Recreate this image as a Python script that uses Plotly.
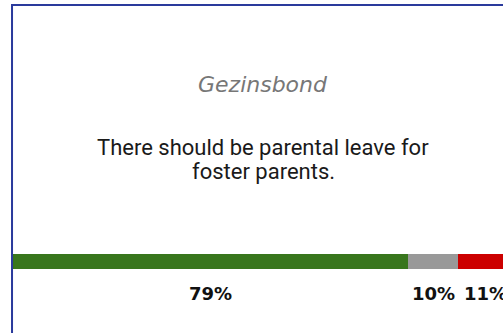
import plotly.graph_objects as go

# Data
organisation = "Gezinsbond"
statement_lines = ["There should be parental leave for", "foster parents."]
categories = ["Agree", "Neutral", "Disagree"]
values = [79, 10, 11]
colors = ["#38761d", "#999999", "#cc0000"]
labels = [f"{v}%" for v in values]

W, H = 503, 333
BAR_Y = 261.5  # y in pixel-like data units (reversed axis)

fig = go.Figure()
for cat, val, col in zip(categories, values, colors):
    fig.add_trace(go.Bar(
        x=[val], y=[BAR_Y], orientation="h", name=cat,
        marker=dict(color=col, line=dict(width=0)),
        width=15, hoverinfo="skip", showlegend=False,
    ))

# Percentage labels centred under each segment
cum = 0
for val, lab in zip(values, labels):
    fig.add_annotation(
        x=cum + val / 2, y=293, xref="x", yref="y", text=f"<b>{lab}</b>", showarrow=False,
        font=dict(family="DejaVu Sans", size=18, color="#111111"),
        xanchor="center", yanchor="middle",
    )
    cum += val

total = sum(values)
fig.add_annotation(
    x=total / 2, y=84, xref="x", yref="y", text=f"<i>{organisation}</i>",
    showarrow=False, font=dict(family="DejaVu Sans", size=22, color="#777777"),
    xanchor="center", yanchor="middle",
)
for i, line in enumerate(statement_lines):
    fig.add_annotation(
        x=total / 2, y=147 + 24 * i, xref="x", yref="y", text=line,
        showarrow=False, font=dict(family="Roboto", size=22, color="#1a1a1a"),
        xanchor="center", yanchor="middle", align="center",
    )

# Frame (extends past the window on right and bottom)
fig.add_shape(type="rect", xref="paper", yref="y", x0=-0.002, x1=1.2, y0=5, y1=H + 20,
              line=dict(color="#2a3a9c", width=2), fillcolor="rgba(0,0,0,0)", layer="above")

fig.update_layout(
    width=W, height=H, barmode="stack", bargap=0,
    margin=dict(l=13, r=0, t=0, b=0),
    paper_bgcolor="white", plot_bgcolor="white",
    xaxis=dict(range=[0, total * (W - 13) / 500], visible=False, fixedrange=True),
    yaxis=dict(range=[H, 0], visible=False, fixedrange=True),
)

fig.write_html("out.html", config={"displayModeBar": False},
               post_script="document.body.style.margin='0';document.body.style.overflow='hidden';")
